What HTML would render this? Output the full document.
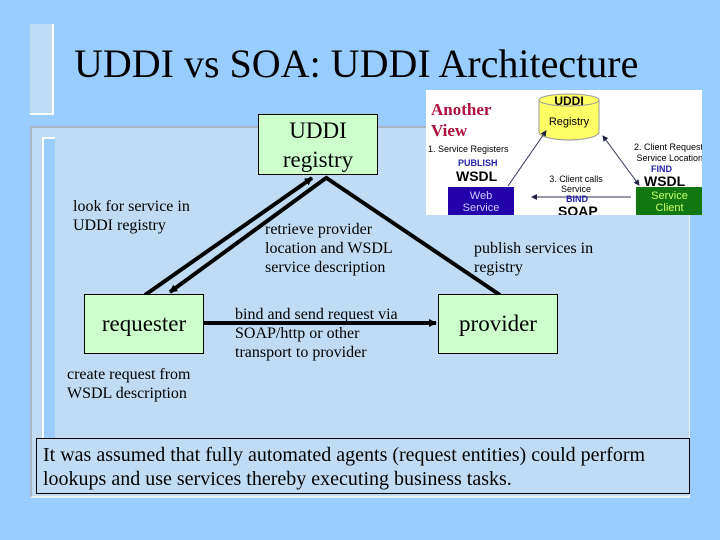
<!DOCTYPE html>
<html><head><style>
body{margin:0;width:720px;height:540px;background:#99ccff;position:relative;overflow:hidden;font-family:"Liberation Serif",serif;}
.a{position:absolute;white-space:nowrap;}
.box{position:absolute;background:#ccffcc;border:1px solid #000;box-sizing:border-box;text-align:center;color:#000;}
.t{position:absolute;font-size:16px;line-height:19px;color:#000;white-space:nowrap;}
.s{font-family:"Liberation Sans",sans-serif;}
</style></head><body>
<div class="a" style="left:30px;top:24px;width:22px;height:89px;background:#c0dcf5;border-right:2px solid #fff;border-bottom:2px solid #fff;"></div>
<div class="a" style="left:30px;top:126px;width:660px;height:372px;background:#c0dcf5;border-top:2px solid #a8b8c8;border-left:2px solid #a8b8c8;border-right:1px solid #e8f0f8;border-bottom:2px solid #e8f0f8;box-sizing:border-box;"></div>
<div class="a" style="left:42px;top:137px;width:11px;height:300px;background:#99ccff;border-left:2px solid #fff;border-top:2px solid #fff;"></div>
<div class="a" style="left:74px;top:38px;font-size:40px;line-height:52px;">UDDI vs SOA: UDDI Architecture</div>

<svg class="a" style="left:0;top:0" width="720" height="540">
<defs><marker id="m" markerWidth="8" markerHeight="8" refX="7" refY="4" orient="auto" markerUnits="userSpaceOnUse"><path d="M0,0L8,4L0,8z" fill="#000"/></marker></defs>
<g stroke="#000" stroke-width="4">
<line x1="145" y1="295" x2="312" y2="178" marker-end="url(#m)"/>
<line x1="326" y1="178" x2="170" y2="292" marker-end="url(#m)"/>
<line x1="325" y1="177" x2="500" y2="295"/>
<line x1="204" y1="323" x2="436" y2="323" marker-end="url(#m)"/>
</g></svg>

<div class="box" style="left:258px;top:114px;width:120px;height:61px;font-size:23px;line-height:29px;padding-top:1px;">UDDI<br>registry</div>
<div class="box" style="left:84px;top:294px;width:120px;height:60px;font-size:23px;line-height:58px;">requester</div>
<div class="box" style="left:438px;top:294px;width:120px;height:60px;font-size:23px;line-height:58px;">provider</div>

<div class="t" style="left:73px;top:197px;">look for service in<br>UDDI registry</div>
<div class="t" style="left:265px;top:220px;">retrieve provider<br>location and WSDL<br>service description</div>
<div class="t" style="left:474px;top:239px;">publish services in<br>registry</div>
<div class="t" style="left:235px;top:305px;">bind and send request via<br>SOAP/http or other<br>transport to provider</div>
<div class="t" style="left:67px;top:365px;">create request from<br>WSDL description</div>

<div class="a" style="left:36px;top:438px;width:654px;height:56px;border:1px solid #000;box-sizing:border-box;font-size:20px;line-height:24px;padding:4px 0 0 6px;">It was assumed that fully automated agents (request entities) could perform<br>lookups and use services thereby executing business tasks.</div>

<div class="a" style="left:426px;top:90px;width:276px;height:125px;background:#fff;overflow:hidden;">
<svg class="a" style="left:0;top:0" width="276" height="125">
<defs><marker id="b" markerWidth="6" markerHeight="6" refX="5" refY="3" orient="auto" markerUnits="userSpaceOnUse"><path d="M0,0L6,3L0,6z" fill="#224"/></marker>
<marker id="c" markerWidth="6" markerHeight="6" refX="5" refY="3" orient="auto-start-reverse" markerUnits="userSpaceOnUse"><path d="M0,0L6,3L0,6z" fill="#224"/></marker></defs>
<path d="M113,10 L113,42 A30,8 0 0 0 173,42 L173,10 Z" fill="#ffff66" stroke="#999"/>
<ellipse cx="143" cy="10" rx="30" ry="6" fill="#ffff66" stroke="#999"/>
<g stroke="#335" stroke-width="1">
<line x1="82" y1="96" x2="120" y2="41" marker-end="url(#b)"/>
<line x1="177" y1="46" x2="213" y2="95" marker-start="url(#c)" marker-end="url(#c)"/>
<line x1="205" y1="107" x2="106" y2="107" marker-end="url(#b)"/>
</g>
<rect x="22" y="97" width="66" height="31" fill="#2200aa"/>
<rect x="210" y="97" width="67" height="31" fill="#117711"/>
</svg>
<div class="a s" style="left:118px;top:4px;width:50px;text-align:center;font-size:12px;font-weight:bold;">UDDI</div>
<div class="a s" style="left:113px;top:26px;width:60px;text-align:center;font-size:11px;">Registry</div>
<div class="a" style="left:5px;top:9px;font-size:17px;line-height:21px;font-weight:bold;color:#b01040;">Another<br>View</div>
<div class="a s" style="left:2px;top:54px;font-size:9px;">1. Service Registers</div>
<div class="a s" style="left:32px;top:68px;font-size:9px;font-weight:bold;color:#2222aa;">PUBLISH</div>
<div class="a s" style="left:30px;top:78px;font-size:14px;font-weight:bold;">WSDL</div>
<div class="a s" style="left:190px;top:52px;font-size:9px;line-height:11px;text-align:right;width:87px;">2. Client Request<br>Service Location</div>
<div class="a s" style="left:225px;top:74px;font-size:9px;font-weight:bold;color:#2222aa;">FIND</div>
<div class="a s" style="left:218px;top:83px;font-size:14px;font-weight:bold;">WSDL</div>
<div class="a s" style="left:115px;top:84px;font-size:9px;line-height:10px;text-align:center;width:70px;">3. Client calls<br>Service</div>
<div class="a s" style="left:140px;top:104px;font-size:9px;font-weight:bold;color:#2222aa;">BIND</div>
<div class="a s" style="left:132px;top:113px;font-size:14px;font-weight:bold;">SOAP</div>
<div class="a s" style="left:22px;top:100px;width:66px;text-align:center;font-size:11px;line-height:12px;color:#ccccff;">Web<br>Service</div>
<div class="a s" style="left:210px;top:100px;width:67px;text-align:center;font-size:11px;line-height:12px;color:#ccff66;">Service<br>Client</div>
</div>
</body></html>
